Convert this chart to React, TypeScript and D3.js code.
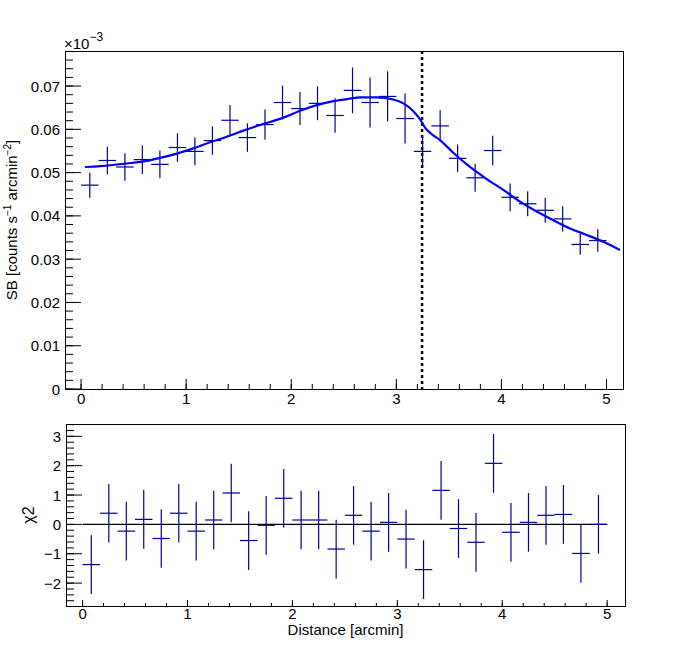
import React from "react";
import * as d3 from "d3";

// ---------- data ----------
const distance = [
  0.083, 0.25, 0.417, 0.583, 0.75, 0.917, 1.083, 1.25, 1.417, 1.583,
  1.75, 1.917, 2.083, 2.25, 2.417, 2.583, 2.75, 2.917, 3.083, 3.25,
  3.417, 3.583, 3.75, 3.917, 4.083, 4.25, 4.417, 4.583, 4.75, 4.917,
];
const binHalfWidth = 0.0833;
const surfaceBrightness = [
  0.0471, 0.0528, 0.0513, 0.053, 0.0519, 0.0558, 0.0549, 0.0574, 0.0621, 0.0581,
  0.0611, 0.0662, 0.0648, 0.066, 0.0632, 0.069, 0.0662, 0.0676, 0.0625, 0.0549,
  0.0608, 0.0533, 0.0488, 0.0551, 0.0443, 0.0428, 0.0413, 0.0393, 0.0334, 0.0343,
];
const sbError = [
  0.0029, 0.0032, 0.0032, 0.0033, 0.0032, 0.0033, 0.0032, 0.0033, 0.0035, 0.0033,
  0.0035, 0.0039, 0.0038, 0.0039, 0.004, 0.0053, 0.0058, 0.0058, 0.0058, 0.0037,
  0.0036, 0.0032, 0.0032, 0.0034, 0.0032, 0.0029, 0.0029, 0.0029, 0.0024, 0.0026,
];
const residual = [
  -1.37, 0.38, -0.23, 0.17, -0.48, 0.38, -0.23, 0.15, 1.07, -0.55,
  -0.03, 0.89, 0.15, 0.15, -0.84, 0.31, -0.23, 0.07, -0.5, -1.54,
  1.16, -0.14, -0.61, 2.08, -0.27, 0.07, 0.31, 0.34, -0.99, 0.0,
];
const residualError = [
  1, 1, 1, 1, 1, 1, 1, 1, 1, 1, 1, 1, 1, 1, 1,
  1, 1, 1, 1, 1, 1, 1, 1, 1, 1, 1, 1, 1, 1, 1,
];
const modelDistance = [
  0.038, 0.181, 0.435, 0.625, 0.752, 0.911, 1.069, 1.227, 1.386, 1.544,
  1.703, 1.925, 2.084, 2.243, 2.401, 2.559, 2.654, 2.813, 2.971, 3.067,
  3.162, 3.226, 3.245, 3.257, 3.321, 3.416, 3.542, 3.701, 3.86, 4.018,
  4.177, 4.336, 4.494, 4.653, 4.812, 4.97, 5.128,
];
const modelSB = [
  0.0513, 0.0515, 0.0521, 0.0527, 0.0534, 0.0544, 0.0556, 0.057, 0.0583, 0.0597,
  0.061, 0.0627, 0.0643, 0.0656, 0.0665, 0.0671, 0.0674, 0.0674, 0.0669, 0.066,
  0.0642, 0.0623, 0.0616, 0.061, 0.0592, 0.0575, 0.0546, 0.0513, 0.0485, 0.046,
  0.0433, 0.041, 0.039, 0.0371, 0.0356, 0.034, 0.0321,
];
const edgePosition = 3.245;
const xTicks = [0, 1, 2, 3, 4, 5];
const xTickLabels = ["0", "1", "2", "3", "4", "5"];
const sbTicks = [0, 0.01, 0.02, 0.03, 0.04, 0.05, 0.06, 0.07];
const sbTickLabels = ["0", "0.01", "0.02", "0.03", "0.04", "0.05", "0.06", "0.07"];
const chiTicks = [-2, -1, 0, 1, 2, 3];
const chiTickLabels = ["\u22122", "\u22121", "0", "1", "2", "3"];

const FONT = "'Liberation Sans', Arial, Helvetica, sans-serif";
const DATA_COLOR = "#000099";
const FIT_COLOR = "#0000ff";

export default function App() {
  const W = 698;
  const H = 650;

  // top panel
  const tL = 65, tR = 623, tT = 51, tB = 389;
  // bottom panel
  const bL = 66, bR = 625, bT = 424, bB = 606;

  const xTop = d3.scaleLinear().domain([-0.153, 5.157]).range([tL, tR]);
  const yTop = d3.scaleLinear().domain([0, 0.0781]).range([tB, tT]);
  const xBot = d3.scaleLinear().domain([-0.158, 5.17]).range([bL, bR]);
  const yBot = d3.scaleLinear().domain([-2.78, 3.42]).range([bB, bT]);

  const fitLine = d3
    .line<number>()
    .x((_, i) => xTop(modelDistance[i]))
    .y((d) => yTop(d))
    .curve(d3.curveMonotoneX);

  const inDom = (s: d3.ScaleLinear<number, number>) => (v: number) => {
    const [a, b] = s.domain();
    return v >= Math.min(a, b) - 1e-9 && v <= Math.max(a, b) + 1e-9;
  };

  const xMinor = d3.range(-0.2, 5.3, 0.2).filter(inDom(xTop));
  const xMinorB = d3.range(-0.2, 5.3, 0.2).filter(inDom(xBot));
  const sbMinor = d3.range(0, 0.0782, 0.002).filter(inDom(yTop));
  const chiMinor = d3.range(-3, 3.5, 0.2).filter(inDom(yBot));

  return (
    <svg
      width={W}
      height={H}
      viewBox={`0 0 ${W} ${H}`}
      style={{ position: "absolute", left: 0, top: 0, background: "#fff" }}
      fontFamily={FONT}
    >
      <rect x={0} y={0} width={W} height={H} fill="#fff" />

      {/* ===== TOP PANEL ===== */}
      <line
        x1={xTop(edgePosition)}
        x2={xTop(edgePosition)}
        y1={tT}
        y2={tB}
        stroke="#000"
        strokeWidth={2.5}
        strokeDasharray="3,3"
      />
      <g stroke={DATA_COLOR} strokeWidth={1.2} fill="none">
        {distance.map((d, i) => (
          <g key={i}>
            <line
              x1={xTop(d - binHalfWidth)}
              x2={xTop(d + binHalfWidth)}
              y1={yTop(surfaceBrightness[i])}
              y2={yTop(surfaceBrightness[i])}
            />
            <line
              x1={xTop(d)}
              x2={xTop(d)}
              y1={yTop(surfaceBrightness[i] - sbError[i])}
              y2={yTop(surfaceBrightness[i] + sbError[i])}
            />
          </g>
        ))}
      </g>
      <path d={fitLine(modelSB) || ""} fill="none" stroke={FIT_COLOR} strokeWidth={2.2} />

      <rect x={tL + 0.5} y={tT + 0.5} width={tR - tL} height={tB - tT} fill="none" stroke="#000" strokeWidth={1} />

      <g stroke="#000" strokeWidth={1}>
        {xMinor.map((v, i) => (
          <line key={"xm" + i} x1={xTop(v)} x2={xTop(v)} y1={tB} y2={tB - 5} />
        ))}
        {xTicks.map((v, i) => (
          <line key={"xM" + i} x1={xTop(v)} x2={xTop(v)} y1={tB} y2={tB - 10} />
        ))}
        {sbMinor.map((v, i) => (
          <line key={"ym" + i} x1={tL} x2={tL + 8} y1={yTop(v)} y2={yTop(v)} />
        ))}
        {sbTicks.map((v, i) => (
          <line key={"yM" + i} x1={tL} x2={tL + 16} y1={yTop(v)} y2={yTop(v)} />
        ))}
      </g>
      <g fontSize={15} fill="#000">
        {xTicks.map((v, i) => (
          <text key={"xl" + i} x={xTop(v)} y={404} textAnchor="middle">
            {xTickLabels[i]}
          </text>
        ))}
        {sbTicks.map((v, i) => (
          <text key={"yl" + i} x={60} y={yTop(v) + 5.5} textAnchor="end">
            {sbTickLabels[i]}
          </text>
        ))}
      </g>
      <text x={64} y={49} fontSize={15} fill="#000">
        {"\u00d710"}
        <tspan fontSize={12} dy={-8}>{"\u22123"}</tspan>
      </text>
      <text
        transform={`translate(17, ${(tT + tB) / 2}) rotate(-90)`}
        textAnchor="middle"
        fontSize={15}
        fill="#000"
      >
        {"SB [counts s"}
        <tspan fontSize={10} dy={-6}>{"\u22121"}</tspan>
        <tspan dy={6}>{" arcmin"}</tspan>
        <tspan fontSize={10} dy={-6}>{"\u22122"}</tspan>
        <tspan dy={6}>{"]"}</tspan>
      </text>

      {/* ===== BOTTOM PANEL ===== */}
      <line x1={xBot(0)} x2={xBot(5)} y1={yBot(0)} y2={yBot(0)} stroke="#000" strokeWidth={1.2} />
      <g stroke={DATA_COLOR} strokeWidth={1.2}>
        {distance.map((d, i) => (
          <g key={i}>
            <line
              x1={xBot(d - binHalfWidth)}
              x2={xBot(d + binHalfWidth)}
              y1={yBot(residual[i])}
              y2={yBot(residual[i])}
            />
            <line
              x1={xBot(d)}
              x2={xBot(d)}
              y1={yBot(residual[i] - residualError[i])}
              y2={yBot(residual[i] + residualError[i])}
            />
          </g>
        ))}
      </g>
      <rect x={bL + 0.5} y={bT + 0.5} width={bR - bL} height={bB - bT} fill="none" stroke="#000" strokeWidth={1} />
      <g stroke="#000" strokeWidth={1}>
        {xMinorB.map((v, i) => (
          <line key={"bxm" + i} x1={xBot(v)} x2={xBot(v)} y1={bB} y2={bB - 3} />
        ))}
        {xTicks.map((v, i) => (
          <line key={"bxM" + i} x1={xBot(v)} x2={xBot(v)} y1={bB} y2={bB - 6} />
        ))}
        {chiMinor.map((v, i) => (
          <line key={"bym" + i} x1={bL} x2={bL + 8} y1={yBot(v)} y2={yBot(v)} />
        ))}
        {chiTicks.map((v, i) => (
          <line key={"byM" + i} x1={bL} x2={bL + 16} y1={yBot(v)} y2={yBot(v)} />
        ))}
      </g>
      <g fontSize={15} fill="#000">
        {xTicks.map((v, i) => (
          <text key={"bxl" + i} x={xBot(v)} y={619} textAnchor="middle">
            {xTickLabels[i]}
          </text>
        ))}
        {chiTicks.map((v, i) => (
          <text key={"byl" + i} x={61} y={yBot(v) + 5.5} textAnchor="end">
            {chiTickLabels[i]}
          </text>
        ))}
      </g>
      <text x={(bL + bR) / 2} y={635} textAnchor="middle" fontSize={15} fill="#000">
        Distance [arcmin]
      </text>
      <text
        transform={`translate(34, ${(bT + bB) / 2}) rotate(-90)`}
        textAnchor="middle"
        fontSize={16}
        fill="#000"
      >
        {"\u03c72"}
      </text>
    </svg>
  );
}
